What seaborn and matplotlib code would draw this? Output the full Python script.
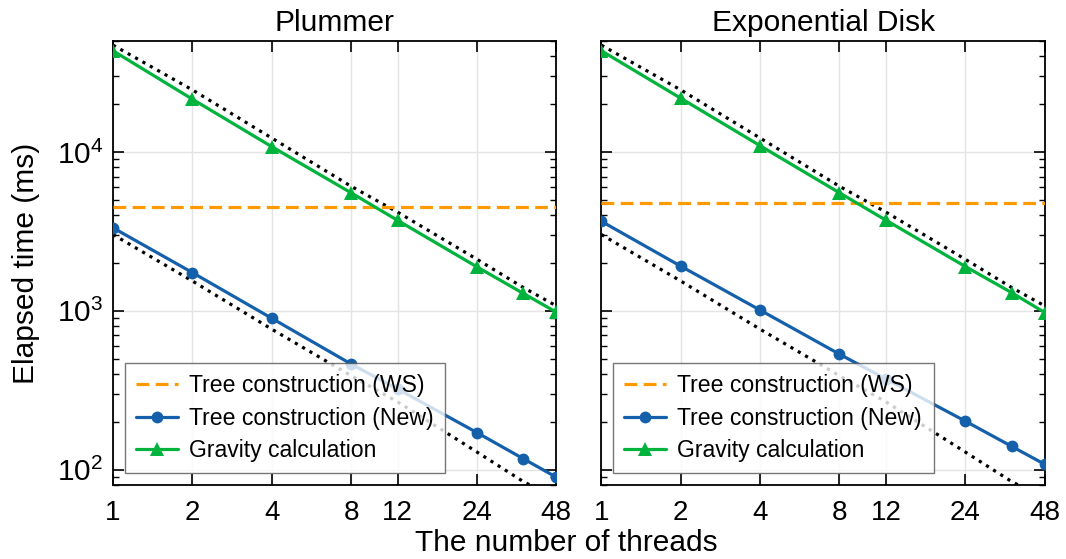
import numpy as np
import pandas as pd
import matplotlib
matplotlib.use("Agg")
import matplotlib.pyplot as plt
import matplotlib.ticker as mticker
import seaborn as sns

# Data
threads = [1, 2, 4, 8, 12, 24, 36, 48]
panels = ["Plummer", "Exponential Disk"]

ws_time = [4500, 4800]  # Tree construction (WS), flat
new_plummer = [3330, 1740, 897, 462, 322, 171, 117, 89.5]
new_expdisk = [3660, 1910, 1010, 533, 372, 202, 140, 108]
grav_plummer = [43400, 21500, 10800, 5530, 3710, 1890, 1285, 980]
grav_expdisk = [43400, 21800, 10950, 5530, 3720, 1900, 1300, 975]

# reference scaling lines (dotted)
ideal_upper = [47100, 24600, 12240, 6080, 4180, 2110, 1400, 1074]
ideal_lower = [3020, 1540, 766, 390, 267, 129, 84, 66]

xticks = [1, 2, 4, 8, 12, 24, 48]

c_ws = "#ff9900"
c_new = "#1460aa"
c_grav = "#00b33c"

sns.set_style("ticks")
plt.rcParams["font.family"] = ["Liberation Sans", "DejaVu Sans"]
plt.rcParams["mathtext.fontset"] = "custom"
plt.rcParams["mathtext.rm"] = "Liberation Sans"
plt.rcParams["text.color"] = "black"
plt.rcParams["axes.labelcolor"] = "black"
plt.rcParams["xtick.color"] = "black"
plt.rcParams["ytick.color"] = "black"

fig, axes = plt.subplots(1, 2, sharey=True, figsize=(10.66, 5.59), dpi=100)
fig.subplots_adjust(left=0.106, right=0.980, bottom=0.1324, top=0.9267, wspace=0.1015)

new_data = [new_plummer, new_expdisk]
grav_data = [grav_plummer, grav_expdisk]

for i, ax in enumerate(axes):
    ax.set_xscale("log")
    ax.set_yscale("log")
    ax.grid(True, which="major", color="#e4e4e4", linewidth=1.0, zorder=0)

    sns.lineplot(x=threads, y=ideal_upper, ax=ax, color="black", linewidth=2.3,
                 linestyle=":", zorder=2)
    sns.lineplot(x=threads, y=ideal_lower, ax=ax, color="black", linewidth=2.3,
                 linestyle=":", zorder=2)
    ax.axhline(ws_time[i], color=c_ws, linewidth=2.3, dashes=(4, 2), zorder=3,
               label="Tree construction (WS)")
    sns.lineplot(x=threads, y=new_data[i], ax=ax, color=c_new, linewidth=2.3,
                 marker="o", markersize=8.5, markeredgewidth=0, zorder=4,
                 label="Tree construction (New)")
    sns.lineplot(x=threads, y=grav_data[i], ax=ax, color=c_grav, linewidth=2.3,
                 marker="^", markersize=9.5, markeredgewidth=0, zorder=4,
                 label="Gravity calculation")

    ax.set_xlim(1, 48)
    ax.set_ylim(80, 5e4)
    ax.xaxis.set_major_locator(mticker.FixedLocator(xticks))
    ax.xaxis.set_major_formatter(mticker.FixedFormatter([str(t) for t in xticks]))
    ax.xaxis.set_minor_locator(mticker.NullLocator())
    ax.yaxis.set_minor_locator(mticker.LogLocator(base=10, subs=np.arange(2, 10)))
    ax.yaxis.set_minor_formatter(mticker.NullFormatter())
    ax.tick_params(which="major", direction="in", length=8, width=1.2,
                   top=True, right=True)
    ax.tick_params(axis="x", which="major", labelsize=20, pad=10.5)
    ax.tick_params(axis="y", which="major", labelsize=21.5, pad=7)
    ax.tick_params(which="minor", direction="in", length=4, width=1.0,
                   top=True, right=True)
    for s in ax.spines.values():
        s.set_linewidth(1.3)
        s.set_color("black")
    ax.set_title(panels[i], fontsize=21.5, pad=7)
    ax.set_xlabel("")
    ax.set_ylabel("")

    leg = ax.legend(loc="lower left", fontsize=16.6, fancybox=False,
                    edgecolor="#555555", framealpha=0.8, handlelength=1.8,
                    handletextpad=0.5, borderaxespad=0.5, borderpad=0.5,
                    labelspacing=0.4)
    leg.get_frame().set_linewidth(1.0)

axes[0].set_ylabel("Elapsed time (ms)", fontsize=21.5)
axes[0].yaxis.set_label_coords(-0.164, 0.5)
fig.text(0.531, 0.003, "The number of threads", ha="center", va="bottom", fontsize=21.5)

plt.savefig("out.png", dpi=100)
